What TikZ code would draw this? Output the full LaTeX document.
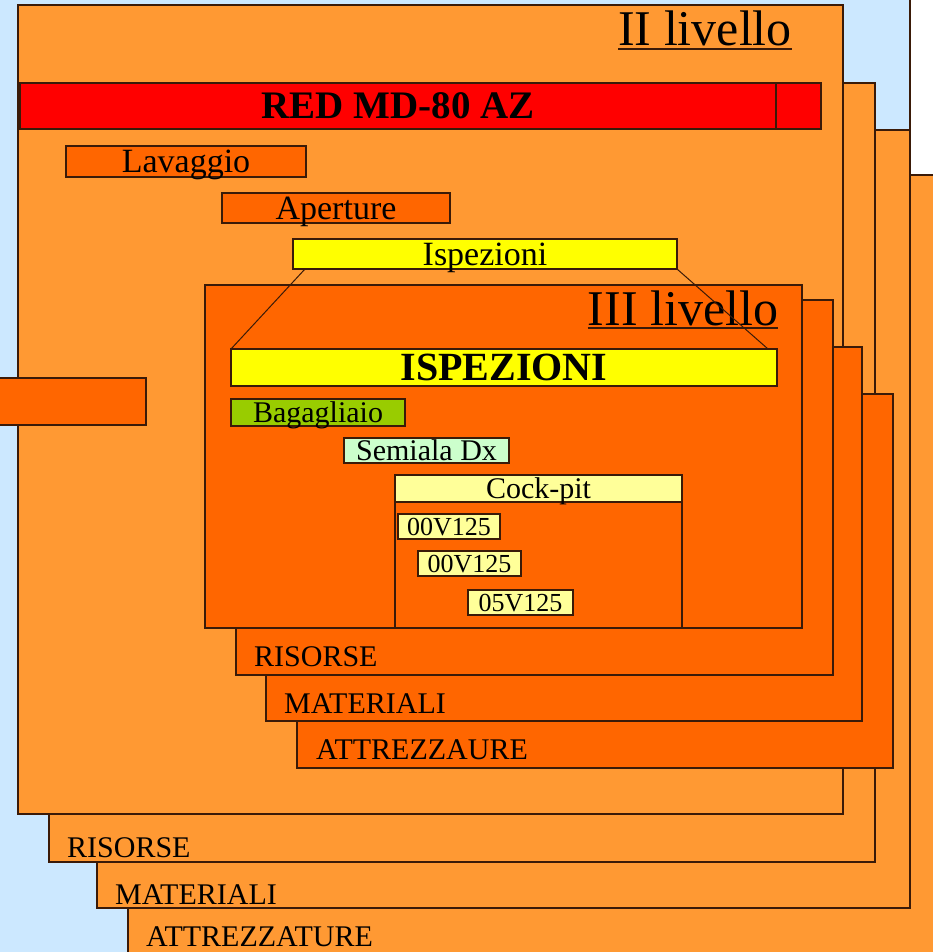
\documentclass[tikz,border=0pt]{standalone}
\usepackage{fontspec}
\setmainfont{Liberation Serif}

\definecolor{cielo}{HTML}{CCE8FF}
\definecolor{arancio}{HTML}{FF9933}
\definecolor{aranciosc}{HTML}{FF6600}
\definecolor{rosso}{HTML}{FF0000}
\definecolor{giallo}{HTML}{FFFF00}
\definecolor{verde}{HTML}{99CC00}
\definecolor{verdino}{HTML}{CCFFCC}
\definecolor{paglia}{HTML}{FFFF99}
\definecolor{bordo}{HTML}{3A1A08}

\begin{document}
\begin{tikzpicture}[x=1pt, y=-1pt,
		box/.style={draw=bordo, line width=1.2pt, anchor=north west, inner sep=0pt, outer sep=0pt},
		voce/.style={box, text depth=0pt, font=\fontsize{34}{40}\selectfont},
		etich/.style={anchor=base west, inner sep=0pt, font=\fontsize{30}{36}\selectfont},
		titolo/.style={anchor=base, inner sep=0pt, font=\fontsize{50}{60}\selectfont}]
		\useasboundingbox (0,0) rectangle (932,952);
		\fill[cielo] (0,0) rectangle (932,952);
		\fill[white] (910,0) rectangle (932,175);
		\draw[bordo, line width=1.2pt] (910,0) -- (910,175);

		% II livello: pile of panels
		\node[box, fill=arancio, minimum width=830pt, minimum height=800pt] (attr2) at (128,175) {};
		\node[box, fill=arancio, minimum width=813pt, minimum height=778pt] (mat2) at (97,130) {};
		\node[box, fill=arancio, minimum width=826pt, minimum height=779pt] (ris2) at (49,83) {};
		\node[etich] (tattr2) at (146,946) {ATTREZZATURE};
		\node[etich] (tmat2) at (115,904) {MATERIALI};
		\node[etich] (tris2) at (67,857) {RISORSE};
		\node[box, fill=arancio, minimum width=825pt, minimum height=809pt] (liv2) at (18,5) {};
		\node[titolo] (tliv2) at (705,46) {II livello};
		\draw[bordo, line width=1.6pt] ([yshift=-3pt]tliv2.base west) -- ([yshift=-3pt]tliv2.base east);

		\node[box, fill=rosso, minimum width=756pt, minimum height=46pt, font=\fontsize{39}{46}\selectfont\bfseries] (red) at (20,83) {RED MD-80 AZ};
		\node[box, fill=rosso, minimum width=45pt, minimum height=46pt] (redb) at (red.north east) {};
		\node[box, fill=aranciosc, minimum width=151pt, minimum height=47pt] (tab) at (-5,378) {};

		\node[voce, fill=aranciosc, minimum width=240pt, minimum height=31pt] (lav) at (66,146) {Lavaggio};
		\node[voce, fill=aranciosc, minimum width=228pt, minimum height=30pt] (ape) at (222,193) {Aperture};
		\node[voce, fill=giallo, minimum width=384pt, minimum height=30pt] (isp) at (293,239) {Ispezioni};

		% III livello
		\node[box, fill=aranciosc, minimum width=596pt, minimum height=374pt] (attr3) at (297,394) {};
		\node[box, fill=aranciosc, minimum width=596pt, minimum height=374pt] (mat3) at (266,347) {};
		\node[box, fill=aranciosc, minimum width=597pt, minimum height=375pt] (ris3) at (236,300) {};
		\node[etich] (tattr3) at (316,759) {ATTREZZAURE};
		\node[etich] (tmat3) at (284,713) {MATERIALI};
		\node[etich] (tris3) at (254,666) {RISORSE};
		\node[box, fill=aranciosc, minimum width=597pt, minimum height=343pt] (liv3) at (205,285) {};
		\node[titolo] (tliv3) at (683,325) {III livello};
		\draw[bordo, line width=1.6pt] ([yshift=-3pt]tliv3.base west) -- ([yshift=-3pt]tliv3.base east);

		\node[box, fill=giallo, minimum width=546pt, minimum height=37pt, text depth=0pt, font=\fontsize{40}{46}\selectfont\bfseries] (ISP) at (231,349) {ISPEZIONI};
		\draw[bordo, line width=1pt] ([xshift=12pt]isp.south west) -- (ISP.north west);
		\draw[bordo, line width=1pt] (isp.south east) -- ([xshift=-9pt]ISP.north east);

		\node[voce, fill=verde, minimum width=174pt, minimum height=27pt, font=\fontsize{30}{36}\selectfont] (bag) at (231,399) {Bagagliaio};
		\node[voce, fill=verdino, minimum width=165pt, minimum height=25pt, font=\fontsize{30}{36}\selectfont] (sem) at (344,438) {Semiala Dx};

		\node[box, fill=aranciosc, minimum width=287pt, minimum height=153pt] (cock) at (395,475) {};
		\node[voce, fill=paglia, minimum width=287pt, minimum height=27pt, font=\fontsize{30}{36}\selectfont] (cockh) at (cock.north west) {Cock-pit};
		\node[voce, fill=paglia, minimum width=102pt, minimum height=25pt, font=\fontsize{26}{30}\selectfont] (c1) at (398,514) {00V125};
		\node[voce, fill=paglia, minimum width=103pt, minimum height=25pt, font=\fontsize{26}{30}\selectfont] (c2) at (418,551) {00V125};
		\node[voce, fill=paglia, minimum width=105pt, minimum height=25pt, font=\fontsize{26}{30}\selectfont] (c3) at (468,590) {05V125};
	\end{tikzpicture}
\end{document}
